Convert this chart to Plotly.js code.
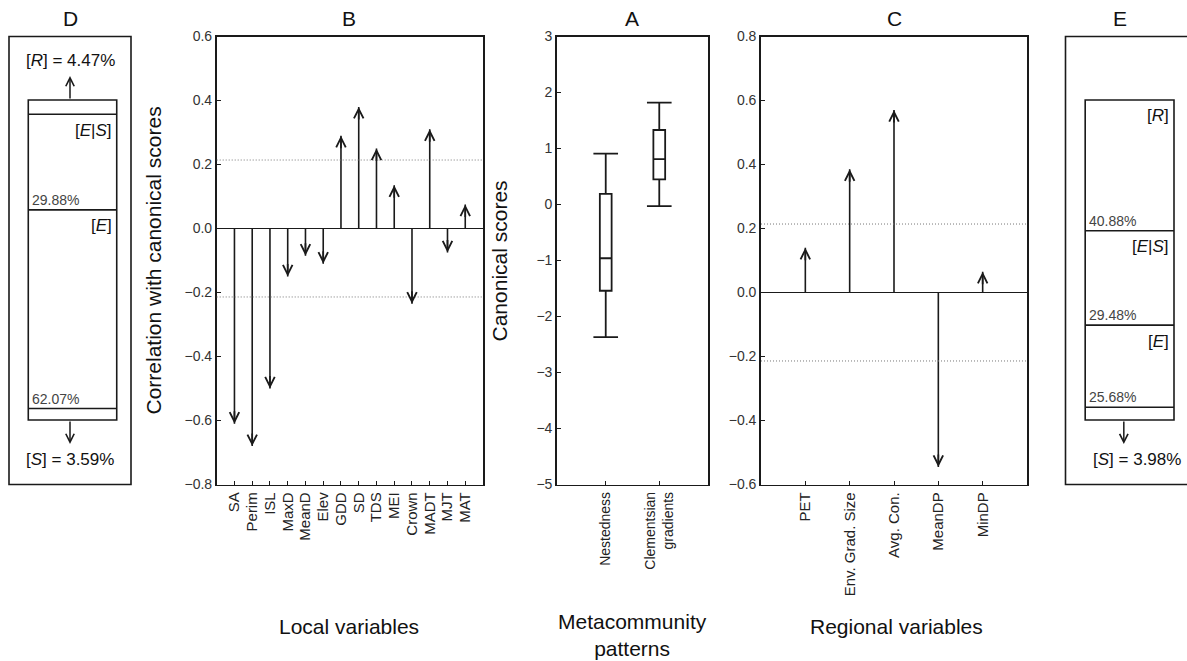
<!DOCTYPE html>
<html><head><meta charset="utf-8">
<script src="https://cdn.plot.ly/plotly-3.0.1.min.js"></script>
<style>html,body{margin:0;padding:0;background:#fff}#chart{width:1187px;height:661px}</style>
</head><body><div id="chart"></div>
<script>
// ---------- DATA ----------
// Panel B : local variables
const localVars = ['SA','Perim','ISL','MaxD','MeanD','Elev','GDD','SD','TDS','MEI','Crown','MADT','MJT','MAT'];
const localCorr = [-0.61,-0.68,-0.50,-0.15,-0.085,-0.11,0.29,0.38,0.25,0.135,-0.235,0.31,-0.075,0.075];
// Panel C : regional variables
const regionalVars = ['PET','Env. Grad. Size','Avg. Con.','MeanDP','MinDP'];
const regionalCorr = [0.14,0.385,0.57,-0.545,0.065];
// significance threshold (dotted lines)
const critical = 0.214;
// Panel A : metacommunity patterns (box plots)
const patterns = ['Nestedness','Clementsian<br>gradients'];
const boxLower  = [-2.37,-0.03];
const boxQ1     = [-1.54, 0.45];
const boxMedian = [-0.96, 0.81];
const boxQ3     = [ 0.19, 1.33];
const boxUpper  = [ 0.91, 1.82];
// Panels D and E : variation partitioning (top to bottom)
const partNames = ['<i>R</i>','<i>E</i>|<i>S</i>','<i>E</i>','<i>S</i>'];
const partD = [4.47, 29.88, 62.07, 3.59];
const partE = [40.88, 29.48, 25.68, 3.98];

// ---------- STYLE ----------
const W = 1187, H = 661;
const ink = '#1a1a1a';
const fam = '"Liberation Sans", Arial, Helvetica, sans-serif';
const px = v => v / W;
const py = v => 1 - v / H;
const yDom = [py(484.5), py(36.5)];

const traces = [];
const annotations = [];
const shapes = [];

function stems(cats, vals, xa, ya) {
  const xs = [], ys = [];
  vals.forEach((v, i) => { xs.push(i + 1, i + 1, null); ys.push(0, v, null); });
  traces.push({type:'scatter', mode:'lines', x:xs, y:ys, xaxis:xa, yaxis:ya,
    line:{color:ink, width:1.6}, hoverinfo:'skip', showlegend:false});
  vals.forEach((v, i) => {
    annotations.push({xref:xa, yref:ya, x:i + 1, y:v, ax:0, ay:(v > 0 ? 14 : -14),
      text:'', showarrow:true, arrowhead:5, arrowsize:1.1, arrowwidth:1.7, arrowcolor:ink, standoff:0});
  });
  shapes.push({type:'line', xref:xa + ' domain', yref:ya, x0:0, x1:1, y0:critical, y1:critical,
    line:{color:'#777', width:1, dash:'1px,2px'}});
  shapes.push({type:'line', xref:xa + ' domain', yref:ya, x0:0, x1:1, y0:-critical, y1:-critical,
    line:{color:'#777', width:1, dash:'1px,2px'}});
}
stems(localVars, localCorr, 'x', 'y');
stems(regionalVars, regionalCorr, 'x3', 'y3');

// Panel A boxes
const boxPos = patterns.map((_, i) => i + 1);
traces.push({type:'box', x:boxPos, q1:boxQ1, median:boxMedian, q3:boxQ3,
  lowerfence:boxLower, upperfence:boxUpper, xaxis:'x2', yaxis:'y2',
  width:0.22, whiskerwidth:0, fillcolor:'rgba(255,255,255,1)', line:{color:ink, width:1.8},
  boxpoints:false, hoverinfo:'skip', showlegend:false});
const capX = [], capY = [];
boxPos.forEach((p, i) => {
  capX.push(p - 0.23, p + 0.23, null, p - 0.23, p + 0.23, null);
  capY.push(boxUpper[i], boxUpper[i], null, boxLower[i], boxLower[i], null);
});
traces.push({type:'scatter', mode:'lines', x:capX, y:capY, xaxis:'x2', yaxis:'y2',
  line:{color:ink, width:1.8}, hoverinfo:'skip', showlegend:false});

// Panels D / E partition boxes
function partition(vals, xa, ya, opts) {
  traces.push({type:'scatter', x:[], y:[], xaxis:xa, yaxis:ya, showlegend:false});
  const b = [0];
  vals.forEach(v => b.push(b[b.length - 1] + v));
  const x0 = opts.x0, x1 = opts.x1;
  shapes.push({type:'rect', xref:xa, yref:ya, x0:x0, x1:x1, y0:0, y1:b[b.length - 1],
    line:{color:ink, width:1.6}});
  for (let k = 1; k < b.length - 1; k++) {
    shapes.push({type:'line', xref:xa, yref:ya, x0:x0, x1:x1, y0:b[k], y1:b[k],
      line:{color:ink, width:1.6}});
  }
  const last = vals.length - 1;
  vals.forEach((v, i) => {
    const outside = (i === 0 || i === last) && v < 5;
    const lbl = '[' + partNames[i] + ']';
    if (outside) {
      const up = i === 0;
      const edge = up ? b[0] : b[b.length - 1];
      const tip = up ? edge - opts.arrowLen : edge + opts.arrowLen;
      annotations.push({xref:xa, yref:ya, x:opts.arrowX, y:tip, axref:xa, ayref:ya, ax:opts.arrowX, ay:edge,
        text:'', showarrow:true, arrowhead:5, arrowsize:1.1, arrowwidth:1.5, arrowcolor:ink, standoff:0});
      annotations.push({xref:xa, yref:ya, x:opts.labelX, y:tip, text:lbl + ' = ' + v.toFixed(2) + '%',
        showarrow:false, xanchor:'center', yanchor:up ? 'bottom' : 'top', yshift:up ? 4 : -4,
        font:{family:fam, size:17, color:'#111'}});
    } else {
      annotations.push({xref:xa, yref:ya, x:x1, y:b[i], text:lbl, showarrow:false,
        xanchor:'right', yanchor:'middle', xshift:-3, yshift:-16, font:{family:fam, size:17, color:'#111'}});
      annotations.push({xref:xa, yref:ya, x:x0, y:b[i + 1], text:v.toFixed(2) + '%', showarrow:false,
        xanchor:'left', yanchor:'middle', xshift:2, yshift:10, font:{family:fam, size:14, color:'#444'}});
    }
  });
}
partition(partD, 'x4', 'y4', {x0:0.158, x1:0.883, arrowX:0.5, labelX:0.5, arrowLen:7.5});
partition(partE, 'x5', 'y5', {x0:0.162, x1:0.893, arrowX:0.48, labelX:0.59, arrowLen:7.5});

// outer frames of D and E
shapes.push({type:'rect', xref:'paper', yref:'paper', x0:px(9), x1:px(131), y0:yDom[0], y1:yDom[1],
  line:{color:ink, width:1.6}});
shapes.push({type:'rect', xref:'paper', yref:'paper', x0:px(1065.5), x1:1.05, y0:yDom[0], y1:yDom[1],
  line:{color:ink, width:1.6}});

// ---------- TEXT ----------
const titleFont = {family:fam, size:21, color:'#111'};
[['D',70],['B',349],['A',632],['C',894],['E',1120]].forEach(([t, x]) => {
  annotations.push({xref:'paper', yref:'paper', x:px(x), y:py(18), text:t, showarrow:false,
    xanchor:'center', yanchor:'middle', font:titleFont});
});
annotations.push({xref:'paper', yref:'paper', x:px(153), y:py(260.5), text:'Correlation with canonical scores',
  textangle:-90, showarrow:false, xanchor:'center', yanchor:'middle', font:titleFont});
annotations.push({xref:'paper', yref:'paper', x:px(499), y:py(260.5), text:'Canonical scores',
  textangle:-90, showarrow:false, xanchor:'center', yanchor:'middle', font:titleFont});
annotations.push({xref:'paper', yref:'paper', x:px(349), y:py(626), text:'Local variables',
  showarrow:false, xanchor:'center', yanchor:'middle', font:titleFont});
annotations.push({xref:'paper', yref:'paper', x:px(632), y:py(635), text:'Metacommunity<br>patterns',
  showarrow:false, xanchor:'center', yanchor:'middle', font:titleFont});
annotations.push({xref:'paper', yref:'paper', x:px(896), y:py(626), text:'Regional variables',
  showarrow:false, xanchor:'center', yanchor:'middle', font:titleFont});

// ---------- AXES ----------
function frame(extra) {
  return Object.assign({showline:true, mirror:true, linecolor:ink, linewidth:1.8,
    ticks:'inside', ticklen:4, tickwidth:1, tickcolor:ink, showgrid:false, zeroline:false,
    tickfont:{family:fam, size:14, color:'#333'}, fixedrange:true}, extra);
}
const hidden = {visible:false, fixedrange:true, showgrid:false, zeroline:false};

const layout = {
  width:W, height:H, margin:{l:0, r:0, t:0, b:0},
  paper_bgcolor:'#fff', plot_bgcolor:'rgba(0,0,0,0)', showlegend:false,
  font:{family:fam, color:'#222'},
  xaxis: frame({domain:[px(216.7), px(483)], range:[0, localVars.length + 1], anchor:'y',
    tickmode:'array', tickvals:localVars.map((_, i) => i + 1), ticktext:localVars, tickangle:-90,
    tickfont:{family:fam, size:15, color:'#222'}}),
  yaxis: frame({domain:yDom, range:[-0.8, 0.6], anchor:'x', tick0:0, dtick:0.2, tickformat:'.1f',
    zeroline:true, zerolinecolor:ink, zerolinewidth:1.6}),
  xaxis2: frame({domain:[px(557), px(708)], range:[0.09, 2.91], anchor:'y2',
    tickmode:'array', tickvals:boxPos, ticktext:patterns, tickangle:-90,
    tickfont:{family:fam, size:14, color:'#222'}}),
  yaxis2: frame({domain:yDom, range:[-5, 3], anchor:'x2', tick0:0, dtick:1}),
  xaxis3: frame({domain:[px(761), px(1027)], range:[0, regionalVars.length + 1], anchor:'y3',
    tickmode:'array', tickvals:regionalVars.map((_, i) => i + 1), ticktext:regionalVars, tickangle:-90,
    tickfont:{family:fam, size:15, color:'#222'}}),
  yaxis3: frame({domain:yDom, range:[-0.6, 0.8], anchor:'x3', tick0:0, dtick:0.2, tickformat:'.1f',
    zeroline:true, zerolinecolor:ink, zerolinewidth:1.6}),
  xaxis4: Object.assign({domain:[px(9), px(131)], range:[0, 1], anchor:'y4'}, hidden),
  yaxis4: Object.assign({domain:yDom, range:[120.16, -19.84], anchor:'x4'}, hidden),
  xaxis5: Object.assign({domain:[px(1065.5), 1], range:[0, 1], anchor:'y5'}, hidden),
  yaxis5: Object.assign({domain:yDom, range:[120.16, -19.84], anchor:'x5'}, hidden),
  shapes: shapes,
  annotations: annotations
};

Plotly.newPlot('chart', traces, layout, {staticPlot:true, displayModeBar:false});
</script>
</body></html>
